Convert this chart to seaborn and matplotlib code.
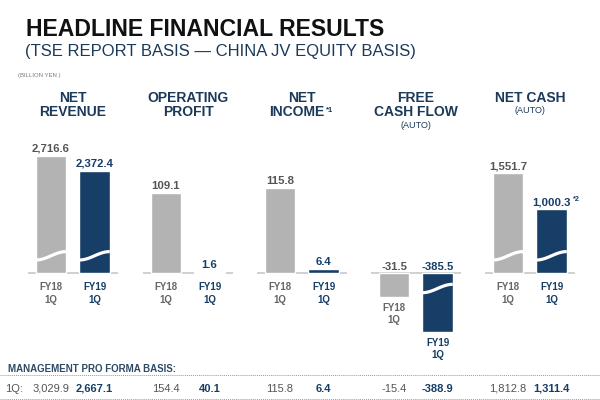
import numpy as np
import pandas as pd
import matplotlib
matplotlib.use("Agg")
import matplotlib.pyplot as plt
import matplotlib.transforms as mtransforms
from matplotlib.lines import Line2D
import seaborn as sns

sns.set_theme(style="white")
plt.rcParams["font.family"] = ["Liberation Sans", "DejaVu Sans"]

# ---------------- data ----------------
periods = ["FY18\n1Q", "FY19\n1Q"]
title_lines = [["NET", "REVENUE"], ["OPERATING", "PROFIT"], ["NET", "INCOME"],
               ["FREE", "CASH FLOW"], ["NET CASH"]]
title_notes = ["", "", "*1", "", ""]
title_subs = ["", "", "", "(AUTO)", "(AUTO)"]
net_revenue = [2716.6, 2372.4]
operating_profit = [109.1, 1.6]
net_income = [115.8, 6.4]
free_cash_flow = [-31.5, -385.5]
net_cash = [1551.7, 1000.3]
value_notes = [["", ""], ["", ""], ["", ""], ["", ""], ["", "*2"]]
broken_bars = [[True, True], [False, False], [False, False], [False, True], [True, True]]
proforma_label = "1Q:"
proforma_fy18 = [3029.9, 154.4, 115.8, -15.4, 1812.8]
proforma_fy19 = [2667.1, 40.1, 6.4, -388.9, 1311.4]
series = [net_revenue, operating_profit, net_income, free_cash_flow, net_cash]

# ---------------- style ----------------
GRAY = "#b3b3b3"
NAVY = "#163e66"
TXT_GRAY = "#555555"
LBL_GRAY = "#666666"
TITLE_NAVY = "#1b3a5a"
W, H = 600, 400


def fx(px):
    return px / W


def fy(py):
    return 1 - py / H


fig = plt.figure(figsize=(6, 4), dpi=100)
fig.patch.set_facecolor("white")

# header
fig.text(fx(26), fy(36.5), "HEADLINE FINANCIAL RESULTS", fontsize=16.6,
         fontweight="bold", color="#111111", va="baseline")
fig.text(fx(25), fy(56), "(TSE REPORT BASIS \u2014 CHINA JV EQUITY BASIS)",
         fontsize=12, color=TITLE_NAVY, va="baseline")
fig.text(fx(18.5), fy(77), "(BILLION YEN )", fontsize=4.3, color="#7a7a7a", va="baseline")

lefts = [28, 143, 257, 371, 485]
ax_top, ax_bot, base_px = 130, 360, 273.3
above, below = base_px - ax_top, ax_bot - base_px
px_per_unit = [0.04329, 0.738, 0.738, 0.738, 0.06445]

# broken scale for free cash flow
BRK, K = 40.0, 0.1132


def fwd(v):
    v = np.asarray(v, dtype=float)
    a = np.abs(v)
    return np.sign(v) * np.where(a <= BRK, a, BRK + (a - BRK) * K)


def inv(u):
    u = np.asarray(u, dtype=float)
    a = np.abs(u)
    return np.sign(u) * np.where(a <= BRK, a, BRK + (a - BRK) / K)


axes = []
for i, vals in enumerate(series):
    ax = fig.add_axes([fx(lefts[i]), fy(ax_bot), fx(90), (ax_bot - ax_top) / H])
    df = pd.DataFrame({"period": periods, "value": vals})
    sns.barplot(data=df, x="period", y="value", hue="period",
                palette=[GRAY, NAVY], width=0.70, saturation=1,
                errorbar=None, legend=False, ax=ax, zorder=2)
    s = px_per_unit[i]
    if i == 3:
        ax.set_yscale("function", functions=(fwd, inv))
        ax.set_ylim(float(inv(-below / s)), float(inv(above / s)))
    else:
        ax.set_ylim(-below / s, above / s)
    ax.set_xlim(-0.53, 1.54)
    ax.axis("off")
    ax.axhline(0, color="#c8c8c8", lw=1.2, zorder=1)
    axes.append(ax)

    base_disp = ax.transData.transform((0, 0))[1]
    colors_txt = [TXT_GRAY, NAVY]
    colors_lbl = [LBL_GRAY, NAVY]
    for j, v in enumerate(vals):
        # value label
        ax.annotate(f"{v:,.1f}", xy=(j, max(v, 0)), xytext=(0, 2.7),
                    textcoords="offset points", ha="center", va="baseline",
                    fontsize=8.2, fontweight="bold", color=colors_txt[j])
        if value_notes[i][j]:
            ax.annotate(value_notes[i][j], xy=(j, max(v, 0)), xytext=(15.5, 5.8),
                        textcoords="offset points", ha="left", va="baseline",
                        fontsize=5.2, fontweight="bold", color=colors_txt[j])
        # category label
        off = -6.6 if v >= 0 else -4.6
        ax.annotate(periods[j], xy=(j, min(v, 0)), xytext=(0, off),
                    textcoords="offset points", ha="center", va="top",
                    fontsize=7, fontweight="bold", color=colors_lbl[j],
                    linespacing=1.3)
        # break wave
        if broken_bars[i][j]:
            sign = 1 if v >= 0 else -1
            d = 17.5 if v >= 0 else 15.2
            t = np.linspace(0, 1, 60)
            xs = j - 0.35 + t * 0.70
            ydisp = base_disp + sign * d + 4.2 * np.sin(np.pi * (t - 0.5))
            xdisp = ax.transData.transform(np.column_stack([xs, np.zeros_like(xs)]))[:, 0]
            ydata = ax.transData.inverted().transform(np.column_stack([xdisp, ydisp]))[:, 1]
            ax.plot(xs, ydata, color="white", lw=2.3, solid_capstyle="butt", zorder=3)

    # panel title
    cx = fx(lefts[i] + 45)
    lines = title_lines[i]
    for k, line in enumerate(lines):
        yb = 101.7 + 14.3 * k
        if k == len(lines) - 1 and title_notes[i]:
            fig.text(cx - fx(5), fy(yb), line, fontsize=10, fontweight="bold",
                     color=TITLE_NAVY, ha="center", va="baseline")
            fig.text(cx + fx(24), fy(yb - 4.5), title_notes[i], fontsize=5.5,
                     fontweight="bold", color=TITLE_NAVY, ha="left", va="baseline")
        else:
            fig.text(cx, fy(yb), line, fontsize=10, fontweight="bold",
                     color=TITLE_NAVY, ha="center", va="baseline")
    if title_subs[i]:
        yb = 101.7 + 14.3 * (len(lines) - 1) + 11.5
        fig.text(cx, fy(yb), title_subs[i], fontsize=6.5, color=TITLE_NAVY,
                 ha="center", va="baseline")

# pro forma table
fig.text(fx(8), fy(372.3), "MANAGEMENT PRO FORMA BASIS:", fontsize=7,
         fontweight="bold", color="#2d4a66", va="baseline")
for ypx in (374.6, 398.6):
    fig.add_artist(Line2D([0, 1], [fy(ypx), fy(ypx)], transform=fig.transFigure,
                          color="#9a9a9a", lw=0.7, linestyle=(0, (1, 1))))
fig.text(fx(5), fy(391.7), proforma_label, fontsize=8, color=TXT_GRAY, va="baseline")
for i, ax in enumerate(axes):
    tr = mtransforms.blended_transform_factory(ax.transData, fig.transFigure)
    ax.text(0, fy(391.7), f"{proforma_fy18[i]:,.1f}", transform=tr, ha="center",
            va="baseline", fontsize=8, color=TXT_GRAY)
    ax.text(1, fy(391.7), f"{proforma_fy19[i]:,.1f}", transform=tr, ha="center",
            va="baseline", fontsize=8, fontweight="bold", color=NAVY)

fig.savefig("out.png", dpi=100, facecolor="white")
